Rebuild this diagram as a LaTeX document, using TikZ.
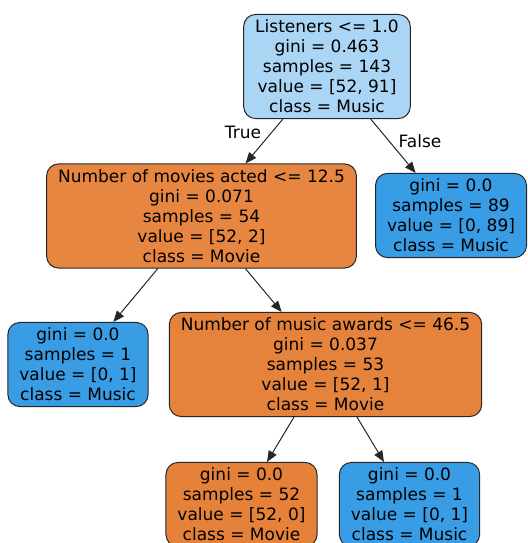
\documentclass[tikz,border=0pt]{standalone}
\usepackage{fontspec}
\setmainfont{DejaVu Sans}
\usetikzlibrary{arrows.meta}
\definecolor{musicblue}{HTML}{399DE5}
\definecolor{movieorange}{HTML}{E58139}
\definecolor{rootblue}{HTML}{AAD5F4}
\definecolor{moviesorange}{HTML}{E68641}
\definecolor{awardsorange}{HTML}{E5833D}
\tikzset{
    treenode/.style={draw=black!85,line width=1pt,rounded corners=12pt,align=center,
        inner xsep=11.5pt,inner ysep=5.5pt,font=\fontsize{17}{20}\selectfont},
    branch/.style={draw=black!85,line width=1pt,-{Triangle[length=11pt,width=9pt]}},
    branchlabel/.style={font=\fontsize{17}{20}\selectfont}
}
\begin{document}
\begin{tikzpicture}[x=1pt,y=-1pt]
    \clip (0,0) rectangle (527,543);
    \fill[white] (0,0) rectangle (527,543);
    % split nodes
    \node[treenode,fill=rootblue] (root) at (327,66.5)
        {Listeners <= 1.0\\gini = 0.463\\samples = 143\\value = [52, 91]\\class = Music};
    \node[treenode,fill=moviesorange] (movies) at (201.5,216)
        {Number of movies acted <= 12.5\\gini = 0.071\\samples = 54\\value = [52, 2]\\class = Movie};
    \node[treenode,fill=awardsorange] (awards) at (325.5,364.5)
        {Number of music awards <= 46.5\\gini = 0.037\\samples = 53\\value = [52, 1]\\class = Movie};
    % leaves
    \node[treenode,fill=musicblue] (leafRight) at (451,215.5)
        {gini = 0.0\\samples = 89\\value = [0, 89]\\class = Music};
    \node[treenode,fill=musicblue] (leafLeft) at (78,364.5)
        {gini = 0.0\\samples = 1\\value = [0, 1]\\class = Music};
    \node[treenode,fill=movieorange] (leafMovie) at (241.5,504.5)
        {gini = 0.0\\samples = 52\\value = [52, 0]\\class = Movie};
    \node[treenode,fill=musicblue] (leafMusic) at (409.5,504.5)
        {gini = 0.0\\samples = 1\\value = [0, 1]\\class = Music};

    % edges from parent to child
    \foreach \p/\c in {root/movies,root/leafRight,movies/leafLeft,movies/awards,awards/leafMovie,awards/leafMusic}{
        \draw[branch] (\p) -- (\c);
    }
    \node[branchlabel] (trueLbl) at (243,132) {True};
    \node[branchlabel] (falseLbl) at (420,141) {False};
\end{tikzpicture}
\end{document}
